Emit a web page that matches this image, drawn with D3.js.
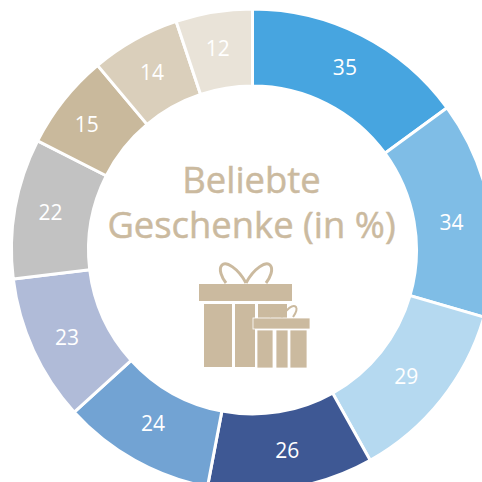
<!DOCTYPE html>
<html>
<head>
<meta charset="utf-8">
<script src="https://cdn.jsdelivr.net/npm/d3@7"></script>
<style>
	html, body { margin: 0; padding: 0; background: #fff; overflow: hidden; }
	text { font-family: "Open Sans", sans-serif; }
</style>
</head>
<body>
<svg id="chart-1" width="482" height="482"></svg>
<script>
const values = [35, 34, 29, 26, 24, 23, 22, 15, 14, 12];
const colors = ['#47a5e0', '#7fbde6', '#b5d9f0', '#3e5894', '#72a3d3', '#b0bbd8', '#c2c2c2', '#c9b99c', '#dacfbb', '#e9e3d8'];
const titleLines = ['Beliebte', 'Geschenke (in %)'];

const beige = '#cbba9f';
const svg = d3.select('#chart-1');
const g = svg.append('g').attr('transform', 'translate(252.5,250)');

const pie = d3.pie().sort(null).value(d => d);
const arc = d3.arc().innerRadius(164).outerRadius(241);
const labelArc = d3.arc().innerRadius(204).outerRadius(204);

const arcs = pie(values);

g.selectAll('path.slice').data(arcs)
	.enter().append('path')
		.attr('class', 'slice')
		.attr('d', arc)
		.attr('fill', (d, i) => colors[i])
		.attr('stroke', '#fff')
		.attr('stroke-width', 3);

// Labels were placed by hand in the original, so nudge them off the centroid.
const nudges = [[0, -1], [-2, 8], [-6, 0], [2, -1], [0, -5], [0, 2], [-1, -2], [-6, 1], [-1, 0], [-2, 0]];
g.selectAll('text.label').data(arcs)
	.enter().append('text')
		.attr('class', 'label')
		.attr('transform', (d, i) => {
			const c = labelArc.centroid(d);
			return `translate(${c[0] + nudges[i][0]},${c[1] + nudges[i][1]})`;
		})
		.attr('text-anchor', 'middle')
		.attr('dy', '0.36em')
		.attr('font-size', 21)
		.attr('fill', '#fff')
		.text(d => d.data);

// Title
svg.selectAll('text.title').data(titleLines)
	.enter().append('text')
		.attr('class', 'title')
		.attr('x', 251.5)
		.attr('y', (d, i) => 193 + i * 45)
		.attr('text-anchor', 'middle')
		.attr('font-size', 36.4)
		.attr('fill', beige)
		.attr('stroke', beige)
		.attr('stroke-width', 0.5)
		.text(d => d);

// Gift icon
const icon = svg.append('g').attr('fill', beige);
[[199, 284, 93, 17], [204, 304, 28, 63], [235, 304, 20, 63], [258, 304, 29, 14]].forEach(r => {
	icon.append('rect').attr('x', r[0]).attr('y', r[1]).attr('width', r[2]).attr('height', r[3]);
});
// small box sits on top with white edge
[[253, 318, 57, 11], [257, 330, 16, 38], [276, 330, 12, 38], [290, 330, 17, 38]].forEach(r => {
	icon.append('rect').attr('x', r[0]).attr('y', r[1]).attr('width', r[2]).attr('height', r[3])
		.attr('stroke', '#fff').attr('stroke-width', 0.8);
});

const bows = [
	['M246,283 C238,268 226,261 222,265 C218,269 222,278 226,283', 3],
	['M246,283 C254,268 266,261 270,265 C274,269 270,278 266,283', 3],
	['M282,317 C278,309 271,304 268,307 C266,310 269,314 271,317', 2],
	['M282,317 C286,309 293,304 296,307 C298,310 295,314 293,317', 2]
];
svg.selectAll('path.bow').data(bows)
	.enter().append('path')
		.attr('class', 'bow')
		.attr('d', d => d[0])
		.attr('fill', 'none')
		.attr('stroke', beige)
		.attr('stroke-width', d => d[1]);
</script>
</body>
</html>
